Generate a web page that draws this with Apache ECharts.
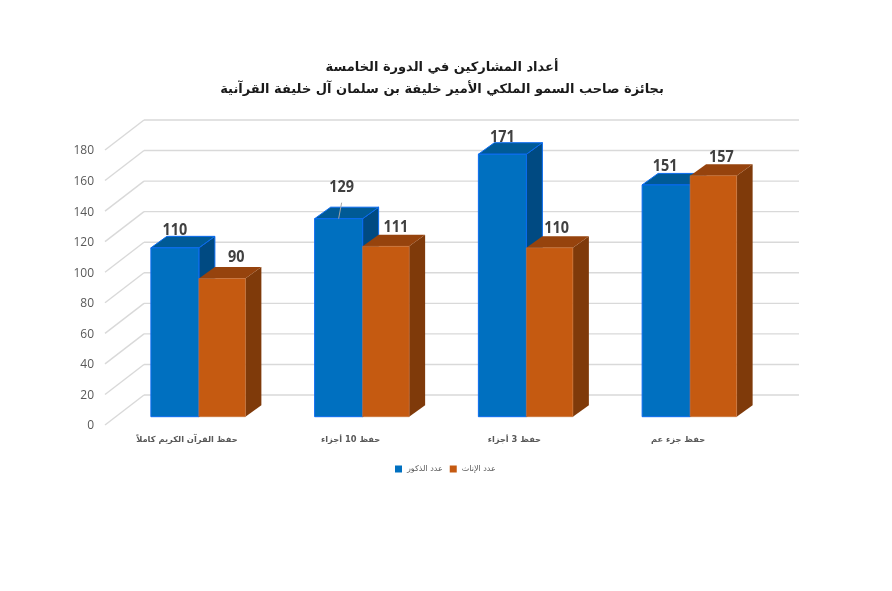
<!DOCTYPE html>
<html>
<head>
<meta charset="utf-8">
<style>
  html, body { margin: 0; padding: 0; background: #fff; }
  #chart { width: 892px; height: 591px; }
</style>
<script src="https://cdn.jsdelivr.net/npm/echarts@6/dist/echarts.min.js"></script>
</head>
<body>
<div id="chart" dir="rtl"></div>
<script>
var categories = ['حفظ القرآن الكريم كاملاً', 'حفظ 10 أجزاء', 'حفظ 3 أجزاء', 'حفظ جزء عم']
var maleValues = [110, 129, 171, 151]
var femaleValues = [90, 111, 110, 157]
var yTicks = [0, 20, 40, 60, 80, 100, 120, 140, 160, 180]
var maleName = 'عدد الذكور'
var femaleName = 'عدد الإناث'
var titleText = 'أعداد المشاركين في الدورة الخامسة\nبجائزة صاحب السمو الملكي الأمير خليفة بن سلمان آل خليفة القرآنية'

// hand placed data labels in the original, offset from the top front centre of each bar
var maleLabelNudge = [[0, -17], [3, -31], [0, -17], [-1, -18]]
var femaleLabelNudge = [[14, -21], [10, -19], [7, -19], [8, -18]]

var font = '"DejaVu Sans", "Noto Sans", sans-serif'
var numFont = '"Open Sans", "Noto Sans", sans-serif'
var wallDepth = [39, -30]
var barDepth = [16, -11.5]

var maleStyle = { front: '#0070c0', top: '#005a96', side: '#004a82', edge: '#0a6bf0' }
var femaleStyle = { front: '#c55a11', top: '#96430d', side: '#7f3a0a', edge: '#c9733a' }

function renderWall(params, api) {
  var p = api.coord([0, api.value(0)])
  var x0 = params.coordSys.x
  var y = p[1] - 1 // tick labels sit a pixel under their wall line
  var right = x0 + params.coordSys.width + wallDepth[0]
  var ls = { stroke: '#d9d9d9', lineWidth: 1.4, fill: null }
  return {
    type: 'group',
    children: [
      { type: 'line', shape: { x1: x0, y1: y, x2: x0 + wallDepth[0], y2: y + wallDepth[1] }, style: ls },
      { type: 'line', shape: { x1: x0 + wallDepth[0], y1: y + wallDepth[1], x2: right, y2: y + wallDepth[1] }, style: ls }
    ]
  }
}

function makeBarRenderer(style, width, isLeft, nudges) {
  return function (params, api) {
    var idx = api.value(0)
    var val = api.value(1)
    var top = api.coord([idx, val])
    var base = api.coord([idx, 0])
    var x = isLeft ? top[0] - width : top[0]
    var xr = x + width
    var dx = barDepth[0]
    var dy = barDepth[1]
    var nudge = nudges[params.dataIndex]
    var cx = x + width / 2
    var children = [
      // side face
      { type: 'polygon', shape: { points: [[xr, top[1]], [xr + dx, top[1] + dy], [xr + dx, base[1] + dy], [xr, base[1]]] },
        style: { fill: style.side, stroke: style.edge, lineWidth: isLeft ? 1 : 0 } },
      // top face
      { type: 'polygon', shape: { points: [[x, top[1]], [x + dx, top[1] + dy], [xr + dx, top[1] + dy], [xr, top[1]]] },
        style: { fill: style.top, stroke: style.edge, lineWidth: isLeft ? 1 : 0 } },
      // front face
      { type: 'rect', shape: { x: x, y: top[1], width: width, height: base[1] - top[1] },
        style: { fill: style.front, stroke: style.edge, lineWidth: isLeft ? 1 : 0.6 } }
    ]
    if (nudge[1] < -25) {
      // leader line, only the label that was dragged away has one
      children.push({ type: 'line', shape: { x1: cx + nudge[0], y1: top[1] + nudge[1] + 15, x2: cx, y2: top[1] },
        style: { stroke: '#a6a6a6', lineWidth: 1, fill: null } })
    }
    // squeezed a bit, the original font has narrow digits
    children.push({ type: 'text', x: cx + nudge[0], y: top[1] + nudge[1], scaleX: 0.9,
      style: { text: String(val), fill: '#404040', fontSize: 16, fontWeight: 700, fontFamily: numFont,
        align: 'center', verticalAlign: 'middle' } })
    return { type: 'group', children: children }
  }
}

var chart = echarts.init(document.getElementById('chart'), null, { renderer: 'canvas' })
chart.setOption({
  backgroundColor: '#fff',
  animation: false,
  title: {
    text: titleText,
    left: 437,
    top: 52,
    textAlign: 'center',
    textStyle: { fontFamily: font, fontSize: 13, fontWeight: 'bold', color: '#1a1a1a', lineHeight: 22 }
  },
  legend: {
    data: [maleName, femaleName],
    left: 390,
    top: 460,
    itemWidth: 7,
    itemHeight: 7,
    itemGap: 7,
    icon: 'rect',
    selectedMode: false,
    textStyle: { fontFamily: font, fontSize: 8, color: '#595959' }
  },
  grid: [
    { left: 105, width: 655, top: 151, height: 275 },
    { left: 117, width: 655, top: 140.4, height: 276.3 }
  ],
  xAxis: [
    { type: 'category', gridIndex: 0, data: categories,
      axisLine: { show: false }, axisTick: { show: false }, splitLine: { show: false },
      axisLabel: { margin: 10, fontFamily: font, fontSize: 8.3, fontWeight: 'bold', color: '#595959', interval: 0 } },
    { type: 'category', gridIndex: 1, data: categories, show: false }
  ],
  yAxis: [
    { type: 'value', gridIndex: 0, min: 0, max: 180, interval: 20,
      axisLine: { show: false }, axisTick: { show: false }, splitLine: { show: false },
      axisLabel: { margin: 11, fontFamily: numFont, fontSize: 12, color: '#595959' } },
    { type: 'value', gridIndex: 1, min: 0, max: 180, show: false, splitLine: { show: false } }
  ],
  series: [
    { type: 'custom', name: 'wall', silent: true, xAxisIndex: 0, yAxisIndex: 0, z: 1, clip: false,
      data: yTicks.map(function (t) { return [t] }), encode: { y: 0 }, renderItem: renderWall },
    { type: 'custom', name: maleName, xAxisIndex: 1, yAxisIndex: 1, z: 2, clip: false,
      itemStyle: { color: maleStyle.front },
      data: maleValues.map(function (v, i) { return [i, v] }), encode: { x: 0, y: 1 },
      renderItem: makeBarRenderer(maleStyle, 48, true, maleLabelNudge) },
    { type: 'custom', name: femaleName, xAxisIndex: 1, yAxisIndex: 1, z: 3, clip: false,
      itemStyle: { color: femaleStyle.front },
      data: femaleValues.map(function (v, i) { return [i, v] }), encode: { x: 0, y: 1 },
      renderItem: makeBarRenderer(femaleStyle, 46.5, false, femaleLabelNudge) }
  ]
})
</script>
</body>
</html>
